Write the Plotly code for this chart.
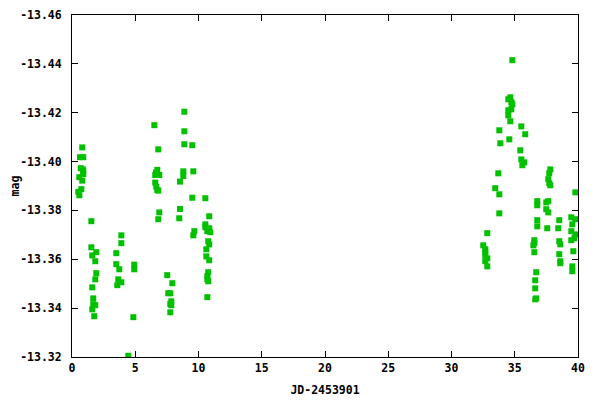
import plotly.graph_objects as go

jd = [0.81, 0.63, 0.89, 0.69, 0.85, 0.89, 0.89, 0.58, 0.81, 0.74, 0.50, 0.58,
      1.53, 1.53, 1.60, 1.92, 1.84, 1.92, 1.84, 1.60, 1.68, 1.68, 1.84, 1.60, 1.76,
      3.50, 3.90, 3.90, 3.50, 3.74, 3.66, 3.90, 3.58, 4.45, 4.92, 4.92, 4.85,
      6.82, 6.74, 6.58, 6.90, 6.58, 6.66, 6.74, 6.82, 6.90, 6.82, 6.51, 6.64,
      7.53, 7.93, 7.61, 7.77, 7.85, 7.85, 7.77, 7.77,
      8.54, 8.54, 8.48, 8.88, 8.88, 8.88, 9.51, 8.80, 8.80, 9.59, 9.51, 9.67, 9.59,
      10.54, 10.85, 10.54, 10.54, 10.85, 10.70, 10.93, 10.77, 10.85, 10.62, 10.62,
      10.85, 10.77, 10.70, 10.70, 10.77, 10.70,
      34.81, 34.65, 34.49, 34.73, 34.81, 34.73, 34.49, 34.49, 34.65, 35.52, 33.78,
      35.83, 34.57, 33.86, 35.44, 35.52, 35.75, 35.60, 37.81, 37.73, 37.65, 37.73,
      37.81, 33.70, 33.46, 33.78, 39.79, 36.78, 36.78, 37.49, 37.65, 37.49, 37.65,
      33.78, 39.47, 39.79, 36.78, 38.52, 39.55, 36.78, 37.57, 38.44, 39.47, 32.83,
      39.79, 39.71, 39.47, 36.55, 36.55, 36.47, 38.52, 38.60, 32.51, 32.67, 32.67,
      32.67, 32.83, 32.67, 32.83, 36.55, 39.63, 38.52, 38.60, 38.60, 39.55, 39.55,
      36.70, 36.62, 36.62, 36.70, 36.62]

mag = [-13.4058, -13.4018, -13.4018, -13.3973, -13.3968, -13.3963, -13.3949, -13.3936,
       -13.3922, -13.3887, -13.3876, -13.3862,
       -13.3756, -13.3649, -13.3616, -13.3629, -13.3592, -13.3543, -13.3518, -13.3485,
       -13.3440, -13.3416, -13.3412, -13.3395, -13.3367,
       -13.3625, -13.3698, -13.3666, -13.3580, -13.3559, -13.3518, -13.3506, -13.3494,
       -13.3205, -13.3578, -13.3559, -13.3363,
       -13.4050, -13.3966, -13.3945, -13.3945, -13.3914, -13.3897, -13.3884, -13.3881,
       -13.3792, -13.3764, -13.4149, -13.3955,
       -13.3535, -13.3502, -13.3461, -13.3461, -13.3428, -13.3412, -13.3417, -13.3383,
       -13.3918, -13.3806, -13.3768, -13.4204, -13.4124, -13.4071, -13.4067, -13.3960,
       -13.3941, -13.3960, -13.3852, -13.3715, -13.3698,
       -13.3850, -13.3776, -13.3743, -13.3731, -13.3727, -13.3715, -13.3711, -13.3674,
       -13.3661, -13.3641, -13.3612, -13.3596, -13.3547, -13.3531, -13.3518, -13.3510,
       -13.3445,
       -13.4415, -13.4263, -13.4255, -13.4243, -13.4235, -13.4214, -13.4210, -13.4189,
       -13.4165, -13.4144, -13.4128, -13.4112, -13.4091, -13.4075, -13.4046, -13.4009,
       -13.3997, -13.3985, -13.3968, -13.3952, -13.3928, -13.3911, -13.3903, -13.3952,
       -13.3891, -13.3866, -13.3874, -13.3838, -13.3821, -13.3833, -13.3838, -13.3805,
       -13.3792, -13.3788, -13.3772, -13.3764, -13.3760, -13.3760, -13.3743, -13.3735,
       -13.3727, -13.3727, -13.3715, -13.3707, -13.3702, -13.3686, -13.3678, -13.3678,
       -13.3666, -13.3657, -13.3674, -13.3661, -13.3657, -13.3641, -13.3629, -13.3616,
       -13.3604, -13.3592, -13.3571, -13.3629, -13.3633, -13.3621, -13.3592, -13.3584,
       -13.3571, -13.3551, -13.3547, -13.3514, -13.3481, -13.3440, -13.3436]

x_ticks = [0, 5, 10, 15, 20, 25, 30, 35, 40]
y_ticks = [-13.46, -13.44, -13.42, -13.40, -13.38, -13.36, -13.34, -13.32]
y_tick_labels = ["-13.46", "-13.44", "-13.42", "-13.40", "-13.38", "-13.36", "-13.34", "-13.32"]

font = dict(family="DejaVu Sans Mono", size=11.5, color="black", weight="bold")

fig = go.Figure(go.Scatter(
    x=jd, y=mag, mode="markers",
    marker=dict(symbol="square", size=6, color="#00c000", line=dict(width=0)),
    cliponaxis=True,
))

axis_common = dict(
    showgrid=False, zeroline=False, showline=True, linecolor="black", linewidth=1,
    mirror="allticks", ticks="inside", ticklen=6, tickcolor="black", tickwidth=1,
    tickfont=font, automargin=False,
)

fig.update_layout(
    width=592, height=392,
    margin=dict(l=64, r=22, t=7, b=43),
    paper_bgcolor="white", plot_bgcolor="white",
    showlegend=False,
    font=font,
    xaxis=dict(range=[0, 40], tickvals=x_ticks, ticktext=[str(v) for v in x_ticks],
               title=dict(text="JD-2453901", font=font, standoff=12), **axis_common),
    yaxis=dict(range=[-13.32, -13.46], tickvals=y_ticks, ticktext=y_tick_labels,
               ticklabelstandoff=7,
               title=dict(text="mag", font=font, standoff=10), **axis_common),
)

fig.write_html("out.html")
